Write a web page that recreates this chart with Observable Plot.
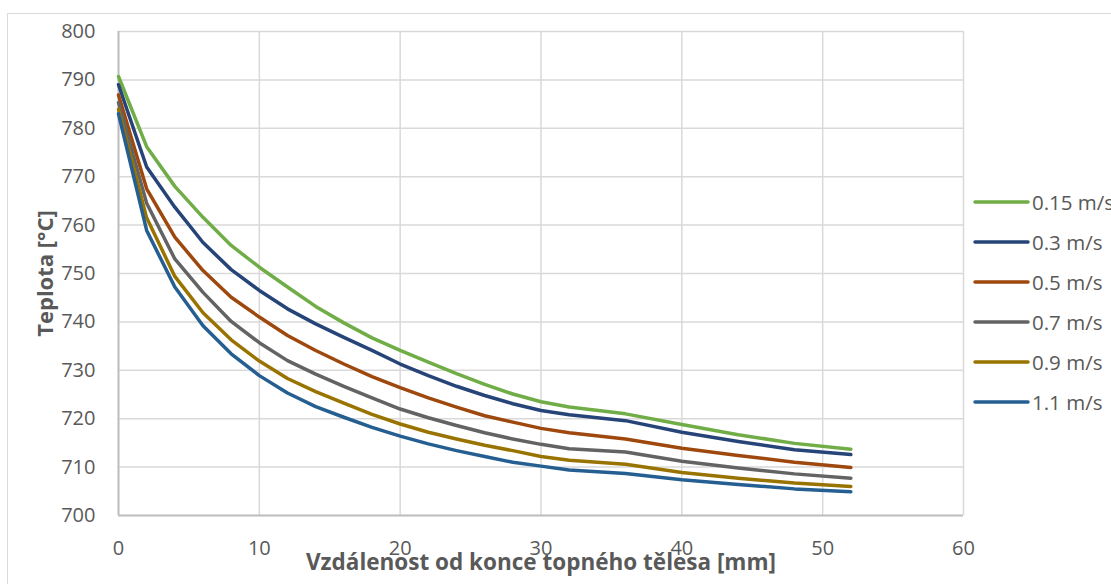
<!DOCTYPE html>
<html>
<head>
<meta charset="utf-8">
<script src="https://cdn.jsdelivr.net/npm/d3@7"></script>
<script src="https://cdn.jsdelivr.net/npm/@observablehq/plot@0.6"></script>
<style>
  html, body { margin: 0; padding: 0; background: #fff; overflow: hidden; }
  #wrap { position: relative; width: 1111px; height: 584px; overflow: hidden; font-family: "Open Sans", sans-serif; }
  #frame { position: absolute; left: 7px; top: 13px; width: 1300px; height: 700px; border: 1.5px solid #d9d9d9; box-sizing: border-box; }
  #chart { position: absolute; left: 0; top: 0; }
  #legend { position: absolute; left: 973px; top: 182px; }
  .item { height: 40px; display: flex; align-items: center; white-space: nowrap; }
  .item svg { width: 57px; height: 8px; margin-right: 2px; flex: none; }
  .item span { font-size: 20.5px; color: #595959; }
</style>
</head>
<body>
<div id="wrap"><div id="frame"></div><div id="chart"></div><div id="legend"></div></div>
<script>
const xs = [0,2,4,6,8,10,12,14,16,18,20,22,24,26,28,30,32,36,40,44,48,52];
const seriesNames = ["0.15 m/s","0.3 m/s","0.5 m/s","0.7 m/s","0.9 m/s","1.1 m/s"];
const seriesColors = ["#70AD47","#264478","#9E480E","#636363","#997300","#255E91"];
const v015 = [790.7,776.2,768.0,761.6,755.8,751.3,747.2,743.2,739.8,736.7,734.1,731.7,729.3,727.1,725.1,723.5,722.4,721.0,718.8,716.7,714.9,713.7];
const v03  = [789.0,772.0,763.7,756.4,750.8,746.5,742.7,739.6,736.8,734.1,731.3,728.9,726.7,724.8,723.1,721.7,720.8,719.6,717.2,715.3,713.6,712.6];
const v05  = [786.9,767.5,757.5,750.6,745.1,741.0,737.2,734.1,731.3,728.7,726.4,724.3,722.4,720.6,719.3,718.0,717.1,715.8,713.9,712.4,711.0,709.9];
const v07  = [785.3,764.5,753.0,746.1,740.1,735.7,732.0,729.2,726.7,724.3,722.0,720.2,718.6,717.1,715.8,714.7,713.8,713.1,711.2,709.8,708.6,707.7];
const v09  = [783.9,761.5,749.4,741.9,736.3,731.9,728.3,725.6,723.2,720.9,718.9,717.2,715.8,714.5,713.4,712.2,711.4,710.6,708.9,707.7,706.7,706.0];
const v11  = [783.0,758.9,747.2,739.2,733.4,728.9,725.3,722.5,720.3,718.2,716.4,714.8,713.4,712.2,711.0,710.2,709.4,708.7,707.4,706.4,705.5,704.9];
const xTicks = [0,10,20,30,40,50,60];
const yTicks = [700,710,720,730,740,750,760,770,780,790,800];
const xTitle = "Vzdálenost od konce topného tělesa [mm]";
const yTitle = "Teplota [°C]";

const allVals = [v015, v03, v05, v07, v09, v11];
const data = seriesNames.flatMap((s, i) => xs.map((x, j) => ({x, y: allVals[i][j], s})));

const plot = Plot.plot({
  width: 1111,
  height: 584,
  marginLeft: 118,
  marginRight: 148,
  marginTop: 31,
  marginBottom: 69,
  style: {fontFamily: "Open Sans", fontSize: "20px", color: "#595959", background: "transparent"},
  x: {domain: [0, 60], ticks: xTicks, label: null},
  y: {domain: [700, 800], ticks: yTicks, label: null},
  color: {domain: seriesNames, range: seriesColors},
  marks: [
    Plot.gridX(xTicks, {stroke: "#d9d9d9", strokeOpacity: 1, strokeWidth: 1.5}),
    Plot.gridY(yTicks, {stroke: "#d9d9d9", strokeOpacity: 1, strokeWidth: 1.5}),
    Plot.ruleX([0], {stroke: "#bfbfbf", strokeWidth: 2}),
    Plot.ruleY([700], {stroke: "#bfbfbf", strokeWidth: 2}),
    Plot.axisX(xTicks, {tickSize: 0, tickPadding: 25, label: null, fill: "#595959"}),
    Plot.axisY(yTicks, {tickSize: 0, tickPadding: 23, label: null, fill: "#595959"}),
    Plot.line(data, {x: "x", y: "y", stroke: "s", z: "s", strokeWidth: 3.5, strokeLinecap: "round", strokeLinejoin: "round"}),
    Plot.text([yTitle], {frameAnchor: "left", textAnchor: "middle", dx: -73, rotate: -90, fontWeight: "bold", fontSize: 22, fill: "#595959"}),
    Plot.text([xTitle], {frameAnchor: "bottom", textAnchor: "middle", dy: 54, fontWeight: "bold", fontSize: 22.5, fill: "#595959"})
  ]
});
document.getElementById("chart").appendChild(plot);

const legend = document.getElementById("legend");
seriesNames.forEach((name, i) => {
  const item = document.createElement("div");
  item.className = "item";
  item.innerHTML = `<svg viewBox="0 0 57 8"><line x1="2" y1="4" x2="55" y2="4" stroke="${seriesColors[i]}" stroke-width="3.5" stroke-linecap="round"/></svg><span>${name}</span>`;
  legend.appendChild(item);
});
</script>
</body>
</html>
